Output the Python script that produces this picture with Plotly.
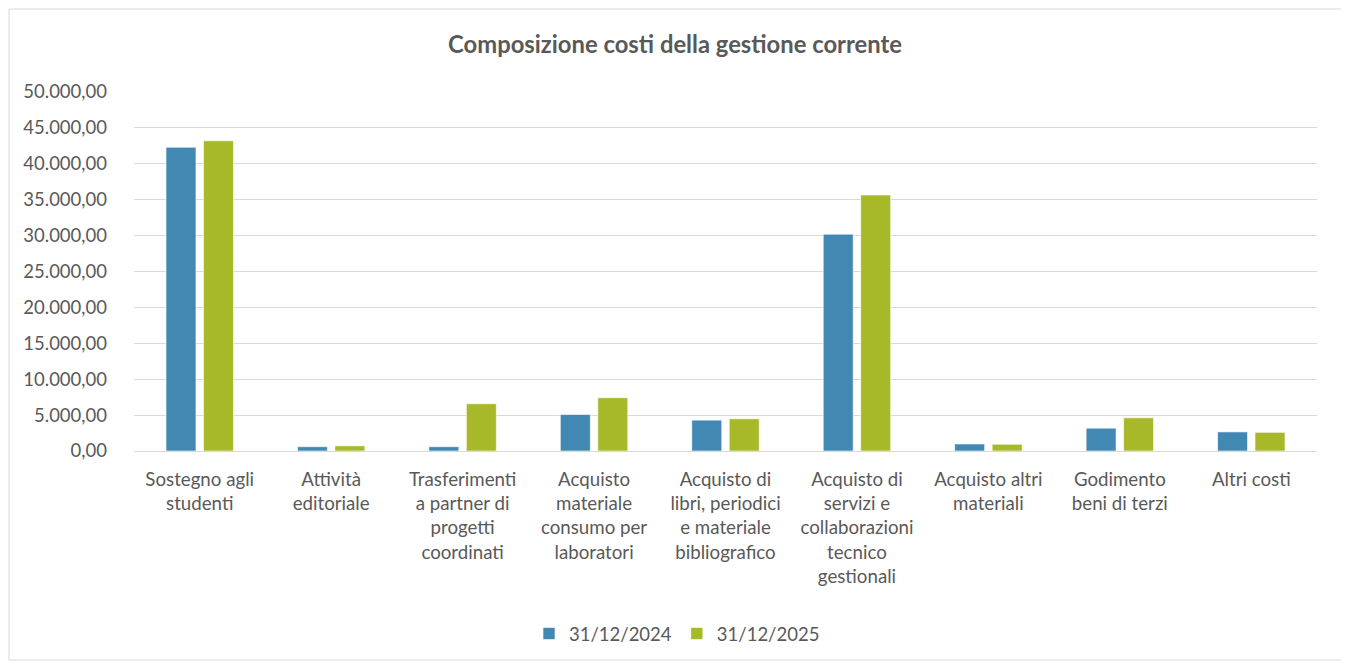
import plotly.graph_objects as go

categories = [
    "Sostegno agli<br>studenti",
    "Attività<br>editoriale",
    "Trasferimenti<br>a partner di<br>progetti<br>coordinati",
    "Acquisto<br>materiale<br>consumo per<br>laboratori",
    "Acquisto di<br>libri, periodici<br>e materiale<br>bibliografico",
    "Acquisto di<br>servizi e<br>collaborazioni<br>tecnico<br>gestionali",
    "Acquisto altri<br>materiali",
    "Godimento<br>beni di terzi",
    "Altri costi",
]
values_2024 = [42300, 600, 600, 5080, 4300, 30200, 980, 3180, 2660]
values_2025 = [43200, 720, 6580, 7420, 4480, 35650, 940, 4620, 2600]
series_names = ["31/12/2024", "31/12/2025"]
colors = ["#4189B3", "#A7B828"]

font_family = "Lato, 'Open Sans', sans-serif"
txt = "#595959"

fig = go.Figure()
for name, vals, col in zip(series_names, [values_2024, values_2025], colors):
    fig.add_trace(go.Bar(
        x=categories, y=vals, name=name,
        marker=dict(color=col, line=dict(color="rgba(255,255,255,0.6)", width=1)),
    ))

OFF = 8  # page body margin offset
W, H = 1349 - OFF, 666 - OFF
l, r, t, b = 134 - OFF, 1349 - 1317, 92 - OFF, 666 - 451
pw = W - l - r
ph = H - t - b

def px_x(p):
    return (p - OFF - l) / pw

def px_y(p):
    return (H - b - (p - OFF)) / ph

fig.update_layout(
    width=W, height=H,
    margin=dict(l=l, r=r, t=t, b=b, autoexpand=False),
    paper_bgcolor="white", plot_bgcolor="white",
    separators=",.",
    barmode="group", bargap=0.43, bargroupgap=0.2,
    title=dict(text="<b>Composizione costi della gestione corrente</b>",
               x=(675 - OFF) / W, xref="container", xanchor="center",
               y=1 - (45 - OFF) / H, yref="container", yanchor="middle",
               font=dict(family=font_family, size=23.8, color=txt)),
    font=dict(family=font_family, size=18.5, color=txt),
    legend=dict(orientation="h", x=px_x(677), xanchor="center",
                y=px_y(634), yanchor="middle",
                font=dict(family=font_family, size=18.5, color=txt),
                traceorder="normal"),
    yaxis=dict(range=[0, 50000], dtick=5000, tickformat=",.2f",
               showgrid=True, gridcolor="#D9D9D9", gridwidth=1,
               zeroline=True, zerolinecolor="#D9D9D9", zerolinewidth=1,
               showline=False, ticks="", ticklabelstandoff=26, automargin=False,
               tickfont=dict(family=font_family, size=18.5, color=txt)),
    xaxis=dict(showline=False, ticks="", tickangle=0, ticklabelstandoff=15, automargin=False,
               tickfont=dict(family=font_family, size=18.7, color=txt)),
    shapes=[dict(type="rect", xref="paper", yref="paper",
                 x0=px_x(9), x1=px_x(1343), y0=px_y(660), y1=px_y(9),
                 line=dict(color="#D9D9D9", width=1), fillcolor="rgba(0,0,0,0)",
                 layer="below")],
)

fig.write_html("out.html")
